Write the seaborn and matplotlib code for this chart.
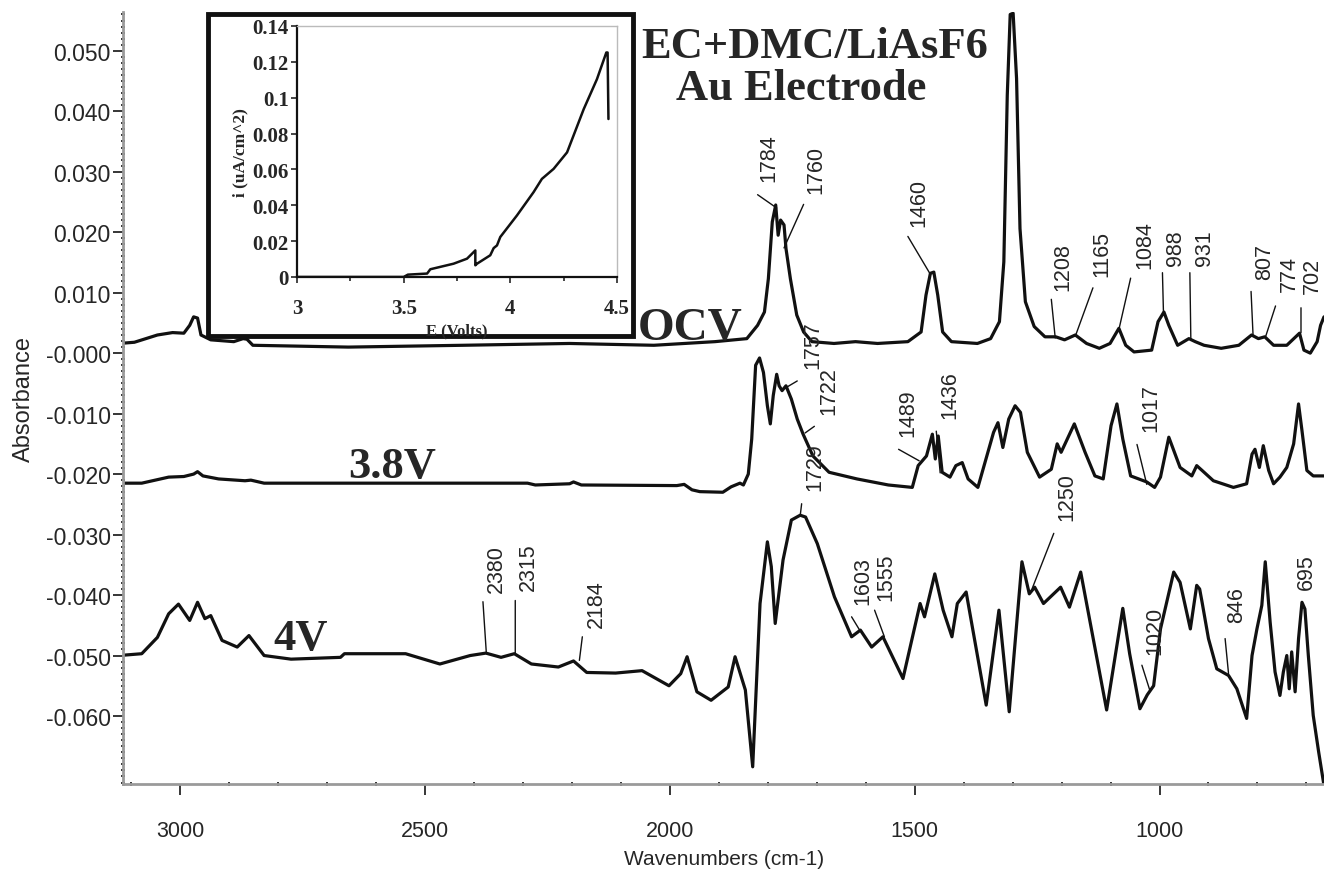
import numpy as np
import pandas as pd
import matplotlib
matplotlib.use("Agg")
import matplotlib.pyplot as plt
from matplotlib.patches import Rectangle
from matplotlib.ticker import MultipleLocator, FixedLocator, FixedFormatter
import seaborn as sns

# ---- FTIR spectra: wavenumber (cm-1) and absorbance ----
ocv_wn = [3125, 3094, 3047, 3016, 2993, 2981, 2973, 2965, 2958, 2938, 2891, 2872, 2864, 2852,
          2657, 2423, 2205, 2033, 1908, 1843, 1821, 1807, 1799, 1791, 1784, 1779, 1774, 1767,
          1763, 1754, 1741, 1727, 1710, 1665, 1621, 1576, 1514, 1487, 1477, 1468, 1461, 1453,
          1443, 1425, 1372, 1345, 1327, 1318, 1311, 1305, 1299, 1292, 1285, 1274, 1256, 1234,
          1212, 1194, 1172, 1149, 1123, 1101, 1083, 1069, 1052, 1016, 1003, 991, 981, 963, 940,
          927, 909, 874, 838, 812, 798, 785, 767, 740, 714, 705, 692, 678, 671, 664]
ocv_abs = [0.0016, 0.0018, 0.0030, 0.0034, 0.0033, 0.0046, 0.0060, 0.0058, 0.0030, 0.0022,
           0.0019, 0.0024, 0.0023, 0.0013, 0.0010, 0.0013, 0.0016, 0.0013, 0.0019, 0.0024,
           0.0046, 0.0068, 0.0123, 0.0217, 0.0245, 0.0195, 0.0220, 0.0212, 0.0173, 0.0123,
           0.0063, 0.0035, 0.0019, 0.0016, 0.0019, 0.0016, 0.0019, 0.0035, 0.0096, 0.0132,
           0.0134, 0.0096, 0.0035, 0.0019, 0.0016, 0.0024, 0.0052, 0.0151, 0.0426, 0.0560,
           0.0562, 0.0454, 0.0206, 0.0085, 0.0044, 0.0027, 0.0027, 0.0022, 0.0030, 0.0016,
           0.0008, 0.0016, 0.0041, 0.0013, 0.0002, 0.0005, 0.0052, 0.0068, 0.0046, 0.0013,
           0.0024, 0.0019, 0.0013, 0.0008, 0.0013, 0.0030, 0.0024, 0.0027, 0.0013, 0.0013,
           0.0033, 0.0005, 0.0000, 0.0019, 0.0046, 0.0060]

v38_wn = [3125, 3079, 3024, 2993, 2973, 2965, 2954, 2922, 2868, 2856, 2829, 2291, 2275, 2205,
          2197, 2181, 1986, 1971, 1955, 1939, 1892, 1875, 1857, 1850, 1840, 1833, 1825, 1817,
          1809, 1801, 1795, 1789, 1782, 1777, 1771, 1763, 1752, 1740, 1728, 1708, 1675, 1618,
          1554, 1505, 1493, 1476, 1464, 1458, 1452, 1444, 1428, 1416, 1403, 1391, 1371, 1339,
          1330, 1320, 1308, 1295, 1284, 1270, 1245, 1221, 1209, 1201, 1174, 1152, 1132, 1115,
          1099, 1087, 1075, 1059, 1026, 1010, 998, 981, 958, 934, 924, 913, 890, 849, 822, 811,
          805, 796, 788, 777, 767, 754, 740, 726, 716, 709, 699, 686, 671, 664]
v38_abs = [-0.0215, -0.0215, -0.0205, -0.0204, -0.0200, -0.0196, -0.0203, -0.0208, -0.0211,
           -0.0210, -0.0215, -0.0215, -0.0218, -0.0216, -0.0213, -0.0218, -0.0219, -0.0217,
           -0.0226, -0.0229, -0.0230, -0.0221, -0.0215, -0.0218, -0.0200, -0.0142, -0.0020,
           -0.0008, -0.0032, -0.0087, -0.0117, -0.0070, -0.0035, -0.0054, -0.0062, -0.0054,
           -0.0076, -0.0109, -0.0134, -0.0170, -0.0197, -0.0208, -0.0218, -0.0222, -0.0186,
           -0.0170, -0.0134, -0.0175, -0.0137, -0.0197, -0.0205, -0.0186, -0.0181, -0.0208,
           -0.0222, -0.0131, -0.0115, -0.0156, -0.0109, -0.0087, -0.0098, -0.0164, -0.0205,
           -0.0192, -0.0150, -0.0164, -0.0117, -0.0164, -0.0203, -0.0208, -0.0120, -0.0084,
           -0.0142, -0.0203, -0.0213, -0.0222, -0.0205, -0.0139, -0.0189, -0.0203, -0.0186,
           -0.0194, -0.0211, -0.0222, -0.0216, -0.0167, -0.0159, -0.0189, -0.0153, -0.0194,
           -0.0216, -0.0205, -0.0189, -0.0150, -0.0084, -0.0128, -0.0194, -0.0203, -0.0203,
           -0.0203]

v4_wn = [3125, 3079, 3047, 3024, 3004, 2981, 2965, 2950, 2938, 2915, 2884, 2860, 2829, 2774,
         2673, 2665, 2618, 2540, 2470, 2408, 2376, 2345, 2318, 2283, 2228, 2197, 2170, 2111,
         2057, 2002, 1978, 1965, 1945, 1916, 1881, 1867, 1846, 1831, 1816, 1801, 1793, 1785,
         1769, 1752, 1734, 1723, 1699, 1664, 1629, 1611, 1588, 1565, 1524, 1489, 1480, 1459,
         1442, 1424, 1413, 1395, 1354, 1328, 1307, 1281, 1266, 1255, 1237, 1202, 1184, 1161,
         1108, 1075, 1061, 1040, 1025, 1012, 998, 971, 958, 937, 924, 918, 913, 900, 883, 859,
         842, 822, 811, 801, 791, 784, 774, 764, 754, 747, 740, 735, 730, 723, 716, 709, 703,
         696, 686, 675, 664]
v4_abs = [-0.0500, -0.0497, -0.0470, -0.0431, -0.0415, -0.0442, -0.0412, -0.0439, -0.0434,
          -0.0475, -0.0486, -0.0467, -0.0500, -0.0506, -0.0503, -0.0497, -0.0497, -0.0497,
          -0.0514, -0.0500, -0.0496, -0.0503, -0.0497, -0.0514, -0.0519, -0.0509, -0.0528,
          -0.0529, -0.0525, -0.0550, -0.0530, -0.0502, -0.0560, -0.0574, -0.0552, -0.0502,
          -0.0557, -0.0684, -0.0414, -0.0312, -0.0353, -0.0447, -0.0342, -0.0276, -0.0268,
          -0.0271, -0.0315, -0.0403, -0.0469, -0.0458, -0.0486, -0.0469, -0.0538, -0.0414,
          -0.0436, -0.0365, -0.0425, -0.0469, -0.0414, -0.0395, -0.0582, -0.0425, -0.0593,
          -0.0345, -0.0398, -0.0387, -0.0414, -0.0387, -0.0420, -0.0362, -0.0590, -0.0422,
          -0.0497, -0.0588, -0.0565, -0.0550, -0.0456, -0.0362, -0.0379, -0.0456, -0.0384,
          -0.0390, -0.0412, -0.0472, -0.0522, -0.0533, -0.0555, -0.0604, -0.0500, -0.0456,
          -0.0417, -0.0345, -0.0445, -0.0527, -0.0566, -0.0527, -0.0500, -0.0555, -0.0494,
          -0.0560, -0.0472, -0.0412, -0.0423, -0.0500, -0.0599, -0.0659, -0.0715]

# ---- inset: linear sweep, current density vs potential ----
inset_e = [3.00, 3.50, 3.52, 3.61, 3.625, 3.734, 3.797, 3.836, 3.836, 3.844, 3.906, 3.922,
           3.9375, 3.953, 4.031, 4.109, 4.148, 4.203, 4.266, 4.344, 4.406, 4.45, 4.456, 4.46]
inset_i = [0.0, 0.0, 0.0013, 0.0019, 0.0043, 0.0074, 0.0102, 0.0148, 0.0065, 0.0074, 0.0121,
           0.0161, 0.0176, 0.0223, 0.0343, 0.0473, 0.0547, 0.0603, 0.0695, 0.0936, 0.1103,
           0.1252, 0.1252, 0.0881]

# ---- peak labels: text, text position (wn, abs), leader line from -> to ----
peak_labels = [
    ("1784", 1798, 0.0284, 1821, 0.0262, 1782, 0.0240),
    ("1760", 1701, 0.0265, 1727, 0.0246, 1767, 0.0174),
    ("1460", 1492, 0.0210, 1514, 0.0193, 1470, 0.0133),
    ("1208", 1198, 0.0105, 1221, 0.0089, 1213, 0.0025),
    ("1165", 1118, 0.0127, 1136, 0.0108, 1172, 0.0028),
    ("1084", 1030, 0.0141, 1059, 0.0124, 1083, 0.0039),
    ("988", 967, 0.0146, 994, 0.0133, 992, 0.0069),
    ("931", 909, 0.0146, 938, 0.0133, 936, 0.0023),
    ("807", 785, 0.0122, 813, 0.0102, 809, 0.0031),
    ("774", 734, 0.0102, 763, 0.0078, 783, 0.0028),
    ("702", 687, 0.0100, 711, 0.0075, 711, 0.0034),
    ("1757", 1708, -0.0024, 1740, -0.0046, 1763, -0.0057),
    ("1722", 1675, -0.0101, 1705, -0.0121, 1724, -0.0132),
    ("1489", 1513, -0.0137, 1533, -0.0159, 1491, -0.0178),
    ("1436", 1428, -0.0107, 1456, -0.0129, 1448, -0.0198),
    ("1017", 1018, -0.0129, 1046, -0.0151, 1026, -0.0217),
    ("1729", 1705, -0.0227, 1731, -0.0249, 1734, -0.0269),
    ("2380", 2355, -0.0395, 2382, -0.0411, 2375, -0.0497),
    ("2315", 2290, -0.0392, 2316, -0.0409, 2316, -0.0497),
    ("2184", 2150, -0.0453, 2179, -0.0469, 2185, -0.0508),
    ("1603", 1606, -0.0414, 1629, -0.0436, 1611, -0.0460),
    ("1555", 1559, -0.0409, 1582, -0.0425, 1562, -0.0469),
    ("1250", 1190, -0.0276, 1216, -0.0298, 1260, -0.0389),
    ("1020", 1009, -0.0497, 1036, -0.0516, 1020, -0.0557),
    ("846", 842, -0.0445, 866, -0.0472, 859, -0.0530),
    ("695", 699, -0.0390, 709, -0.0412, 709, -0.0420),
]

scan_names = ["OCV", "3.8V", "4V"]
scan_label_pos = [(1959, 0.0024), (2567, -0.0204), (2754, -0.0489)]

spectra = pd.concat([
    pd.DataFrame({"wn": ocv_wn, "absorbance": ocv_abs, "scan": "OCV"}),
    pd.DataFrame({"wn": v38_wn, "absorbance": v38_abs, "scan": "3.8V"}),
    pd.DataFrame({"wn": v4_wn, "absorbance": v4_abs, "scan": "4V"}),
])

sns.set_style("ticks")
plt.rcParams["font.family"] = ["Liberation Sans", "DejaVu Sans"]
serif = ["Liberation Serif", "DejaVu Serif"]

fig = plt.figure(figsize=(13.24, 8.70), dpi=100)
ax = fig.add_axes([0.093, 0.098, 0.907, 0.887])

sns.lineplot(data=spectra, x="wn", y="absorbance", hue="scan", units="scan",
             estimator=None, sort=False, palette=["#111111"] * 3, legend=False,
             linewidth=2.3, ax=ax)

ax.set_xlim(3117, 664)
ax.set_ylim(-0.0712, 0.0564)
ax.set_xlabel("Wavenumbers (cm-1)", fontsize=15, labelpad=6)
ax.set_ylabel("Absorbance", fontsize=17, labelpad=8)

yt = [-0.06, -0.05, -0.04, -0.03, -0.02, -0.01, 0.0, 0.01, 0.02, 0.03, 0.04, 0.05]
ytl = ["-0.060", "-0.050", "-0.040", "-0.030", "-0.020", "-0.010", "-0.000",
       "0.010", "0.020", "0.030", "0.040", "0.050"]
ax.yaxis.set_major_locator(FixedLocator(yt))
ax.yaxis.set_major_formatter(FixedFormatter(ytl))
ax.xaxis.set_major_locator(FixedLocator([3000, 2500, 2000, 1500, 1000]))
ax.xaxis.set_minor_locator(MultipleLocator(100))
ax.yaxis.set_minor_locator(MultipleLocator(0.001))
ax.tick_params(axis="y", which="major", labelsize=16.5, length=7, width=1.3, pad=2)
ax.tick_params(axis="x", which="major", labelsize=15.5, length=8, width=1.3, pad=18)
ax.tick_params(which="minor", length=3, width=1.3, direction="inout")
for s in ["top", "right"]:
    ax.spines[s].set_visible(False)
for s in ["left", "bottom"]:
    ax.spines[s].set_color("#9a9a9a")
    ax.spines[s].set_linewidth(2)

# scan labels
for name, (x, y) in zip(scan_names, scan_label_pos):
    ax.text(x, y, name, family=serif, fontweight="bold",
            fontsize=34 if name == "OCV" else 32, ha="center", va="baseline")

# peak labels with leader lines
for lab, tx, ty, x0, y0, x1, y1 in peak_labels:
    ax.text(tx, ty, lab, rotation=90, fontsize=15.5, ha="center", va="bottom")
    ax.annotate("", xy=(x1, y1), xytext=(x0, y0),
                arrowprops=dict(arrowstyle="-", lw=1.0, color="#111111",
                                shrinkA=0, shrinkB=0))

fig.text(0.6156, 0.9333, "EC+DMC/LiAsF6", family=serif, fontweight="bold",
         fontsize=32, ha="center", va="baseline")
fig.text(0.6050, 0.885, "Au Electrode", family=serif, fontweight="bold",
         fontsize=32, ha="center", va="baseline")

# inset frame and inset axes
frame = Rectangle((0.157, 0.6126), 0.321, 0.370, transform=fig.transFigure,
                  facecolor="white", edgecolor="#111111", linewidth=3.5, zorder=2)
fig.patches.append(frame)

axi = fig.add_axes([0.2243, 0.6805, 0.2417, 0.2885])
axi.set_zorder(10)
sns.lineplot(x=inset_e, y=inset_i, sort=False, estimator=None, color="#111111",
             linewidth=1.8, ax=axi)
axi.set_xlim(3, 4.5)
axi.set_ylim(0, 0.14)
axi.xaxis.set_major_locator(FixedLocator([3, 3.5, 4, 4.5]))
axi.xaxis.set_major_formatter(FixedFormatter(["3", "3.5", "4", "4.5"]))
axi.xaxis.set_minor_locator(FixedLocator([3.25, 3.75, 4.25]))
it = [0, 0.02, 0.04, 0.06, 0.08, 0.10, 0.12, 0.14]
axi.yaxis.set_major_locator(FixedLocator(it))
axi.yaxis.set_major_formatter(FixedFormatter(["0", "0.02", "0.04", "0.06", "0.08",
                                              "0.1", "0.12", "0.14"]))
axi.tick_params(which="major", labelsize=15, length=4, width=1.2)
axi.tick_params(axis="x", which="major", pad=11)
axi.tick_params(axis="y", which="major", pad=2)
axi.tick_params(which="minor", length=3, width=1.2)
for t in axi.get_xticklabels() + axi.get_yticklabels():
    t.set_family(serif)
    t.set_fontweight("bold")
axi.set_xlabel("E (Volts)", family=serif, fontweight="bold", fontsize=12, labelpad=3)
axi.set_ylabel("i (uA/cm^2)", family=serif, fontweight="bold", fontsize=12.5, labelpad=3)
for s in ["left", "bottom"]:
    axi.spines[s].set_color("#111111")
    axi.spines[s].set_linewidth(1.6)
for s in ["top", "right"]:
    axi.spines[s].set_color("#bbbbbb")
    axi.spines[s].set_linewidth(1.0)

fig.savefig("out.png", dpi=100)
